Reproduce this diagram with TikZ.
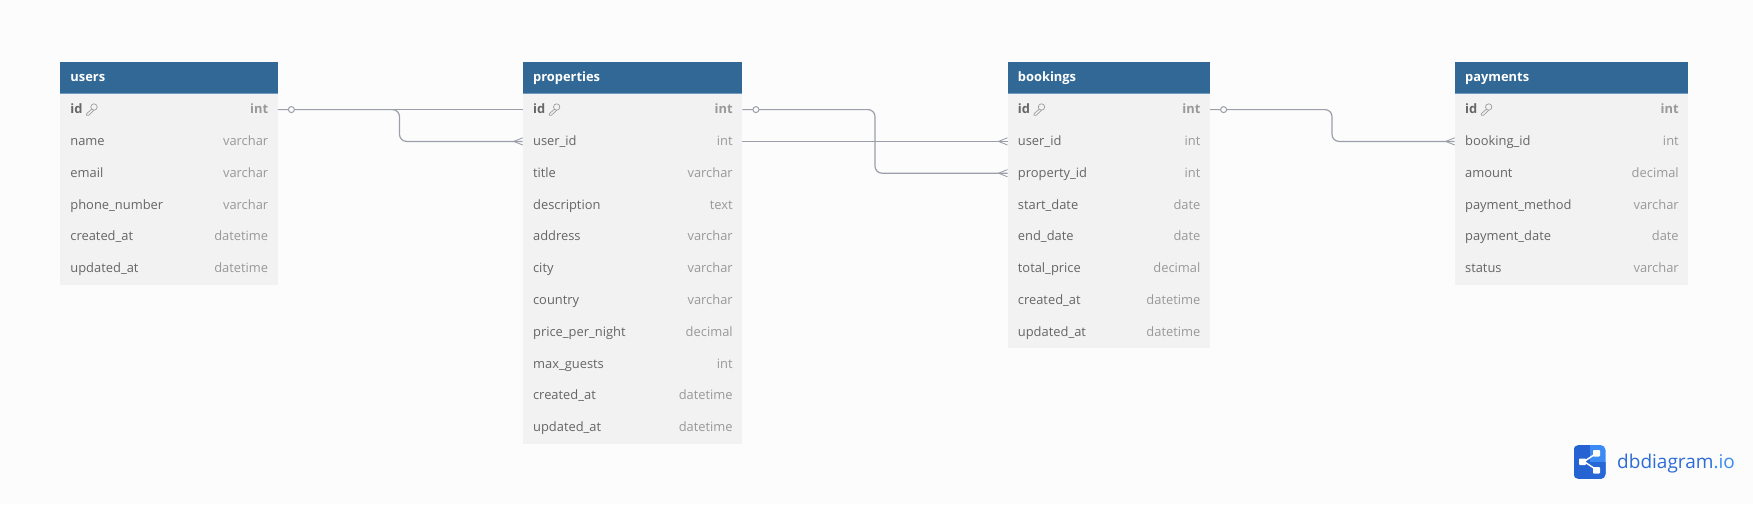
\documentclass[tikz,border=0pt]{standalone}
\usepackage{fontspec}
\setmainfont{Open Sans}
\usetikzlibrary{calc}
\definecolor{bgc}{HTML}{FCFCFC}
\definecolor{headc}{HTML}{316895}
\definecolor{headl}{HTML}{6F9BC0}
\definecolor{rowc}{HTML}{F2F2F2}
\definecolor{namec}{HTML}{666666}
\definecolor{typec}{HTML}{999999}
\definecolor{linec}{HTML}{9C9FAA}
\definecolor{logod}{HTML}{2563D3}
\definecolor{logol}{HTML}{3C8BF4}
\definecolor{logot}{HTML}{2D6CD6}
\tikzset{
  x=1pt,y=-1pt,
  headbox/.style={fill=headc,draw=none,inner sep=0,anchor=north west,minimum height=31.5pt},
  rowbox/.style={fill=rowc,draw=none,inner sep=0,anchor=north west,minimum height=31.8pt},
  headtext/.style={font=\fontsize{12.9}{15}\selectfont\bfseries,text=white,inner sep=0,anchor=base west},
  nametext/.style={font=\fontsize{12.9}{15}\selectfont,text=namec,inner sep=0,anchor=base west},
  typetext/.style={font=\fontsize{12.9}{15}\selectfont,text=typec,inner sep=0,anchor=base east},
  keyname/.style={nametext,font=\fontsize{12.9}{15}\selectfont\bfseries},
  keytype/.style={typetext,font=\fontsize{12.9}{15}\selectfont\bfseries},
  conn/.style={draw=linec,line width=1.2pt,rounded corners=7pt},
  oneend/.style={circle,draw=linec,fill=bgc,line width=1pt,inner sep=0,minimum size=6pt},
  crow/.style={draw=linec,line width=0.9pt},
  keyicon/.style={draw=namec!65,line width=0.7pt,line join=round},
}
\newcommand{\tbl}[4]{%
  \node[headbox,minimum width=#4 pt] (#1) at (#3,62) {};
  \node[headtext] (#1-title) at ($(#1.west)+(10.2,4.0)$) {#2};
  \draw[headl,line width=1pt] (#1.south west) -- (#1.south east);
}
\newcommand{\fld}[7]{%
  \node[rowbox,minimum width=#7 pt] (#1-#2) at (#6,{93.5+31.8*(#5)}) {};
  \node[nametext] (#1-#2-n) at ($(#1-#2.west)+(10.2,4.1)$) {#3};
  \node[typetext] (#1-#2-t) at ($(#1-#2.east)+(-9.5,4.1)$) {#4};
}
\newcommand{\keyfld}[5]{%
  \node[rowbox,minimum width=#5 pt] (#1-id) at (#4,{93.5+31.8*(#3)}) {};
  \node[keyname] (#1-id-n) at ($(#1-id.west)+(10.2,4.1)$) {#2};
  \node[keytype] (#1-id-t) at ($(#1-id.east)+(-9.5,4.1)$) {int};
  \begin{scope}[shift={($(#1-id-n.east |- #1-id.west)+(3.5,0)$)}]
    \draw[keyicon] (7.8,-2.6) circle (3.2);
    \draw[keyicon] (5.5,-0.4) -- (0.5,4) -- (0.3,5.6) -- (2.6,5.6) -- (7.8,0.6);
  \end{scope}
}
\newcommand{\crowfoot}[1]{%
  \draw[crow] ($(#1.west)+(-9,0)$) -- ($(#1.west)+(0,-3.6)$);
  \draw[crow] ($(#1.west)+(-9,0)$) -- ($(#1.west)+(0,3.6)$);
}
\begin{document}
\begin{tikzpicture}
\useasboundingbox (0,0) rectangle (1753,504);
\fill[bgc] (0,0) rectangle (1753,504);
% users
\tbl{users}{users}{60}{217.5}
\keyfld{users}{id}{0}{60}{217.5}
\fld{users}{name}{name}{varchar}{1}{60}{217.5}
\fld{users}{email}{email}{varchar}{2}{60}{217.5}
\fld{users}{phone}{phone\_number}{varchar}{3}{60}{217.5}
\fld{users}{created}{created\_at}{datetime}{4}{60}{217.5}
\fld{users}{updated}{updated\_at}{datetime}{5}{60}{217.5}
% properties
\tbl{properties}{properties}{522.7}{219.3}
\keyfld{properties}{id}{0}{522.7}{219.3}
\fld{properties}{user}{user\_id}{int}{1}{522.7}{219.3}
\fld{properties}{title}{title}{varchar}{2}{522.7}{219.3}
\fld{properties}{description}{description}{text}{3}{522.7}{219.3}
\fld{properties}{address}{address}{varchar}{4}{522.7}{219.3}
\fld{properties}{city}{city}{varchar}{5}{522.7}{219.3}
\fld{properties}{country}{country}{varchar}{6}{522.7}{219.3}
\fld{properties}{price}{price\_per\_night}{decimal}{7}{522.7}{219.3}
\fld{properties}{guests}{max\_guests}{int}{8}{522.7}{219.3}
\fld{properties}{created}{created\_at}{datetime}{9}{522.7}{219.3}
\fld{properties}{updated}{updated\_at}{datetime}{10}{522.7}{219.3}
% bookings
\tbl{bookings}{bookings}{1007.5}{202.2}
\keyfld{bookings}{id}{0}{1007.5}{202.2}
\fld{bookings}{user}{user\_id}{int}{1}{1007.5}{202.2}
\fld{bookings}{property}{property\_id}{int}{2}{1007.5}{202.2}
\fld{bookings}{start}{start\_date}{date}{3}{1007.5}{202.2}
\fld{bookings}{end}{end\_date}{date}{4}{1007.5}{202.2}
\fld{bookings}{total}{total\_price}{decimal}{5}{1007.5}{202.2}
\fld{bookings}{created}{created\_at}{datetime}{6}{1007.5}{202.2}
\fld{bookings}{updated}{updated\_at}{datetime}{7}{1007.5}{202.2}
% payments
\tbl{payments}{payments}{1454.7}{233.3}
\keyfld{payments}{id}{0}{1454.7}{233.3}
\fld{payments}{booking}{booking\_id}{int}{1}{1454.7}{233.3}
\fld{payments}{amount}{amount}{decimal}{2}{1454.7}{233.3}
\fld{payments}{method}{payment\_method}{varchar}{3}{1454.7}{233.3}
\fld{payments}{date}{payment\_date}{date}{4}{1454.7}{233.3}
\fld{payments}{status}{status}{varchar}{5}{1454.7}{233.3}
% routing columns
\coordinate (m1) at (399.5,0);
\coordinate (m2) at (875,0);
\coordinate (m3) at (1332,0);
% connectors
\draw[conn] (users-id.east) -- (properties-id.west);
\draw[conn] (users-id.east) -- (m1 |- users-id.east) -- (m1 |- properties-user.west) -- (properties-user.west);
\draw[conn] (properties-user.east) -- (bookings-user.west);
\draw[conn] (properties-id.east) -- (m2 |- properties-id.east) -- (m2 |- bookings-property.west) -- (bookings-property.west);
\draw[conn] (bookings-id.east) -- (m3 |- bookings-id.east) -- (m3 |- payments-booking.west) -- (payments-booking.west);
% end marks
\node[oneend] (o1) at ($(users-id.east)+(13.5,0)$) {};
\node[oneend] (o2) at ($(properties-id.east)+(13.5,0)$) {};
\node[oneend] (o3) at ($(bookings-id.east)+(13.5,0)$) {};
\crowfoot{properties-user}
\crowfoot{bookings-user}
\crowfoot{bookings-property}
\crowfoot{payments-booking}
% logo
\begin{scope}
  \clip[rounded corners=5pt] (1573.5,445) rectangle (1605.5,479);
  \fill[logod] (1573.5,445) rectangle (1589.5,479);
  \fill[logol] (1589.5,445) rectangle (1605.5,479);
  \fill[logod!90!logol] (1589.5,462) rectangle (1605.5,479);
\end{scope}
\draw[white,line width=1.5pt] (1584,461.5) -- (1596,453.5);
\draw[white,line width=1.5pt] (1584,461.5) -- (1596,469.5);
\fill[white,rounded corners=0.8pt] (1579,458.5) rectangle (1586,465);
\fill[white,rounded corners=0.8pt] (1593,450) rectangle (1600,456.5);
\fill[white,rounded corners=0.8pt] (1593,467) rectangle (1600,473.5);
\node[font=\fontsize{19}{22}\selectfont,text=logot,inner sep=0,anchor=base west] (logotext) at (1617,468) {dbdiagram\textcolor{logol}{.io}};
\end{tikzpicture}
\end{document}
